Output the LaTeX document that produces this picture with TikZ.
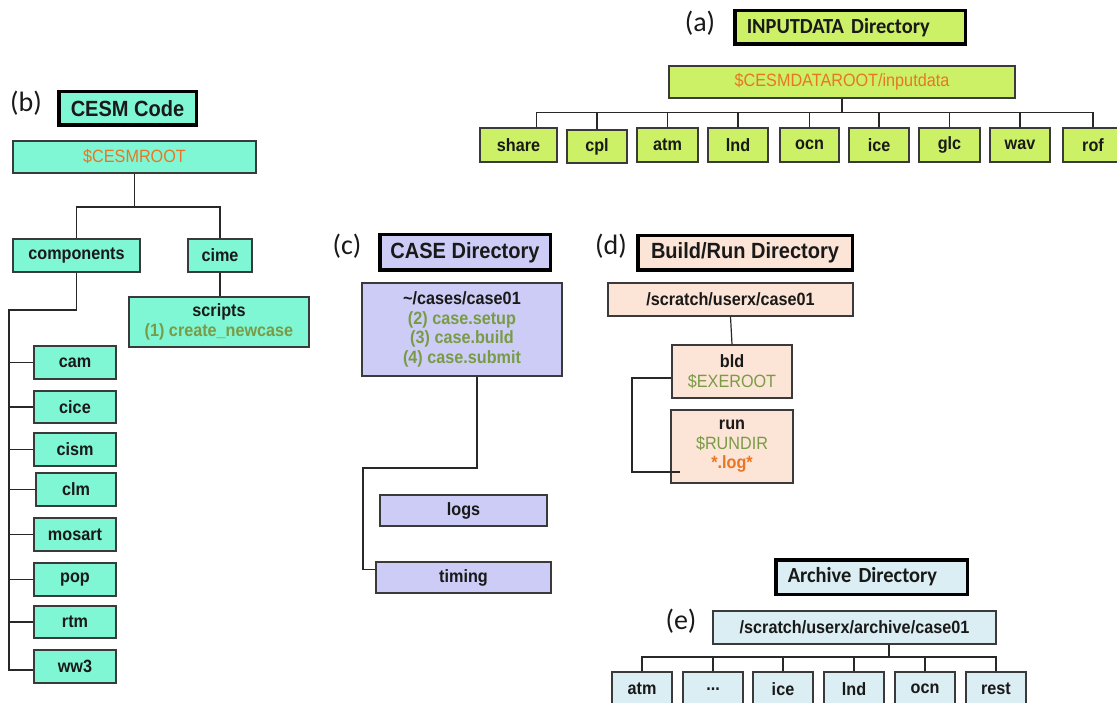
\documentclass[tikz,border=0pt]{standalone}
\usepackage{fontspec}
\setmainfont{Liberation Sans}[FakeStretch=0.91]
\newfontfamily\calfont{Carlito}
\newfontfamily\calfontn{Carlito}[FakeStretch=0.95]
\definecolor{cA}{RGB}{204,240,102}
\definecolor{cB}{RGB}{128,247,212}
\definecolor{cC}{RGB}{204,204,246}
\definecolor{cD}{RGB}{252,228,214}
\definecolor{cE}{RGB}{218,238,243}
\definecolor{grn}{RGB}{122,155,70}
\definecolor{org}{RGB}{232,118,36}
\definecolor{boxc}{RGB}{58,58,58}
\definecolor{linec}{RGB}{40,40,40}
\definecolor{txt}{RGB}{25,25,25}
\tikzset{
  ln/.style={draw=linec, line width=1.2pt},
  bx/.style={draw=boxc, line width=1.3pt, inner sep=0pt, align=center,
    font=\fontsize{17.8}{19.5}\selectfont\bfseries, text=txt},
  ttl/.style={draw=black, line width=3.5pt, inner sep=0pt, align=center,
    font=\fontsize{22}{24}\selectfont\bfseries, text=txt},
  ttlc/.style={draw=black, line width=3.5pt, inner xsep=12pt, inner ysep=0pt, align=left,
    font=\calfontn\fontsize{21.5}{24}\selectfont\bfseries, text=txt},
  lbl/.style={font=\calfont\fontsize{28}{30}\selectfont, text=txt, inner sep=0pt},
  fa/.style={fill=cA}, fb/.style={fill=cB}, fc/.style={fill=cC},
  fd/.style={fill=cD}, fe/.style={fill=cE},
}
\newcommand{\gr}[1]{\textcolor{grn}{#1}}
\newcommand{\orn}[1]{\textcolor{org}{#1}}
\begin{document}
\begin{tikzpicture}[x=1pt,y=-1pt]
\clip (0,0) rectangle (1117,703);
\fill[white] (0,0) rectangle (1117,703);

% ---------------- (a) INPUTDATA ----------------
\node[lbl] (la) at (700,23) {(a)};
\node[ttlc, fa, minimum width=230.5, minimum height=33.5, text width=206.5] (attl) at (850,27.5) {INPUTDATA Directory};
\node[bx, fa, minimum width=346, minimum height=32, font=\fontsize{17.8}{19.5}\selectfont] (aroot) at (842,82) {\orn{\$CESMDATAROOT/inputdata}};
\node[bx, fa, minimum width=77, minimum height=34] (share) at (518.5,145) {share};
\node[bx, fa, minimum width=60, minimum height=33] (cpl) at (597,146.5) {cpl};
\node[bx, fa, minimum width=61, minimum height=34] (aatm) at (667.5,145) {atm};
\node[bx, fa, minimum width=60, minimum height=34] (alnd) at (738,145) {lnd};
\node[bx, fa, minimum width=59, minimum height=34] (aocn) at (809.5,145) {ocn};
\node[bx, fa, minimum width=60, minimum height=34] (aice) at (879,145) {ice};
\node[bx, fa, minimum width=61, minimum height=34] (aglc) at (949.5,145) {glc};
\node[bx, fa, minimum width=60, minimum height=34] (awav) at (1020,145) {wav};
\node[bx, fa, minimum width=60, minimum height=34] (arof) at (1093,145) {rof};
\coordinate (abus) at (0,113);
\draw[ln] (aroot.south) -- (aroot.south |- abus);
\draw[ln] ([xshift=18]share.north) -- ++(0,-15) -| (arof.north);
\foreach \n in {cpl,aatm,alnd,aocn,aice,aglc,awav}
  \draw[ln] (\n.north) -- (\n.north |- abus);

% ---------------- (b) CESM Code ----------------
\node[lbl] (lb) at (26,103) {(b)};
\node[ttl, fb, minimum width=137.5, minimum height=33.5] (bttl) at (127.5,108.5) {CESM Code};
\node[bx, fb, minimum width=243, minimum height=32, font=\fontsize{17.8}{19.5}\selectfont] (broot) at (134.5,157) {\orn{\$CESMROOT}};
\node[bx, fb, minimum width=127, minimum height=33] (comp) at (76.5,255.5) {components};
\node[bx, fb, minimum width=64, minimum height=33] (cime) at (220,255.5) {cime};
\node[bx, fb, minimum width=180, minimum height=50] (scripts) at (219,322) {scripts\\\gr{(1) create\_newcase}};
\node[bx, fb, minimum width=82, minimum height=33] (cam) at (75,362.5) {cam};
\node[bx, fb, minimum width=82, minimum height=32] (cice) at (75,407) {cice};
\node[bx, fb, minimum width=82, minimum height=33] (cism) at (75,449.5) {cism};
\node[bx, fb, minimum width=80, minimum height=33] (clm) at (76,489.5) {clm};
\node[bx, fb, minimum width=82, minimum height=33] (mosart) at (75,534.5) {mosart};
\node[bx, fb, minimum width=82, minimum height=33] (pop) at (75,579.5) {pop};
\node[bx, fb, minimum width=82, minimum height=32] (rtm) at (75,622) {rtm};
\node[bx, fb, minimum width=82, minimum height=33] (ww3) at (75,666.5) {ww3};
\coordinate (bbus) at (0,207);
\coordinate (bv) at (9,310);
\draw[ln] (broot.south) -- (broot.south |- bbus);
\draw[ln] (comp.north) -- (comp.north |- bbus) -| (cime.north);
\draw[ln] (cime.south) -- (cime.south |- scripts.north);
\draw[ln] (comp.south) |- (bv) |- ([yshift=-3.5]ww3.west);
\foreach \n in {cam,cice,cism,clm,mosart,pop,rtm}
  \draw[ln] (\n.west) -- (\n.west -| bv);

% ---------------- (c) CASE Directory ----------------
\node[lbl] (lc) at (347,246) {(c)};
\node[ttl, fc, minimum width=170.5, minimum height=35.5] (cttl) at (465,252.5) {CASE Directory};
\node[bx, fc, minimum width=200, minimum height=93] (case) at (462,329.5) {\textasciitilde/cases/case01\\\gr{(2) case.setup}\\\gr{(3) case.build}\\\gr{(4) case.submit}};
\node[bx, fc, minimum width=167, minimum height=31] (logs) at (463.5,510.5) {logs};
\node[bx, fc, minimum width=175, minimum height=31] (timing) at (463.5,577.5) {timing};
\coordinate (cv) at (363,468);
\draw[ln] ([xshift=15]case.south) |- (cv) |- ([yshift=8]timing.west);

% ---------------- (d) Build/Run Directory ----------------
\node[lbl] (ld) at (611,246) {(d)};
\node[ttl, fd, minimum width=214.5, minimum height=34.5] (dttl) at (745,253) {Build/Run Directory};
\node[bx, fd, minimum width=245, minimum height=33] (droot) at (730.5,299.5) {/scratch/userx/case01};
\node[bx, fd, minimum width=120, minimum height=53] (bld) at (732,371.5) {bld\\\gr{\mdseries\$EXEROOT}};
\node[bx, fd, minimum width=122, minimum height=73] (run) at (732,446.5) {run\\\gr{\mdseries\$RUNDIR}\\\orn{*.log*}};
\coordinate (dv) at (632,472);
\coordinate (dend) at (680,472);
\draw[ln] (droot.south) -- (bld.north);
\draw[ln] ([yshift=-6.5]bld.west) -| (dv) -- (dend);

% ---------------- (e) Archive Directory ----------------
\node[ttlc, fe, minimum width=191.5, minimum height=34.5, text width=167.5] (ettl) at (871.5,577) {Archive Directory};
\node[lbl] (le) at (681,621) {(e)};
\node[bx, fe, minimum width=283, minimum height=33] (eroot) at (854.5,627.5) {/scratch/userx/archive/case01};
\node[bx, fe, minimum width=60, minimum height=34] (eatm) at (642,689) {atm};
\node[bx, fe, minimum width=60, minimum height=34] (edots) at (713,689) {...};
\node[bx, fe, minimum width=60, minimum height=34] (eice) at (783,689) {ice};
\node[bx, fe, minimum width=60, minimum height=34] (elnd) at (854,689) {lnd};
\node[bx, fe, minimum width=60, minimum height=34] (eocn) at (925,689) {ocn};
\node[bx, fe, minimum width=60, minimum height=34] (erest) at (996,689) {rest};
\coordinate (ebus) at (0,657);
\draw[ln] ([xshift=34.5]eroot.south) -- ([xshift=34.5]eroot.south |- ebus);
\draw[ln] (eatm.north) -- (eatm.north |- ebus) -| (erest.north);
\foreach \n in {edots,eice,elnd,eocn}
  \draw[ln] (\n.north) -- (\n.north |- ebus);
\end{tikzpicture}
\end{document}
